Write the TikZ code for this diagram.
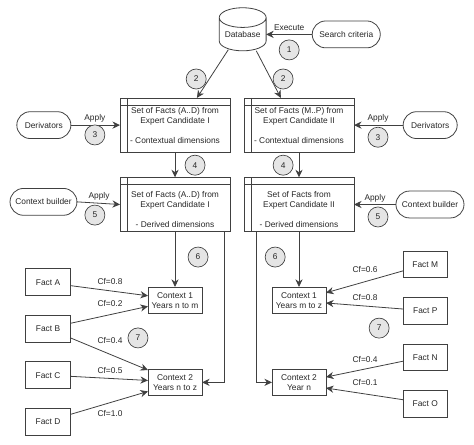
\documentclass[tikz,border=0pt]{standalone}
\usepackage{fontspec}
\setmainfont{Liberation Sans}
\usepackage{tikz}
\usetikzlibrary{arrows.meta,positioning,shapes.geometric,calc}
\newcommand{\lowerline}{\rule{0pt}{11.8pt}}
\begin{document}
\begin{tikzpicture}[
        % Default text and line looks
        font=\fontsize{6.3}{7.5}\selectfont,
        every node/.style={text=black!85, outer sep=0pt},
        % Styles
        factset/.style={rectangle, draw=black!75, line width=0.6pt, minimum width=2.91cm, minimum height=1.44cm, align=center, inner sep=0pt,
            path picture={
                \draw [black!75, line width=0.6pt] ($(path picture bounding box.north west)+(0.2,0)$) -- ($(path picture bounding box.south west)+(0.2,0)$);
                \draw [black!75, line width=0.6pt] ($(path picture bounding box.north west)+(0,-0.2)$) -- ($(path picture bounding box.north east)+(0,-0.2)$);
            }},
        termbox/.style={rectangle, draw=black!75, line width=0.6pt, rounded corners=0.355cm, minimum height=0.71cm, align=center, inner sep=0pt},
        contextbox/.style={rectangle, draw=black!75, line width=0.6pt, minimum width=1.43cm, minimum height=0.71cm, align=center, inner sep=0pt},
        factbox/.style={rectangle, draw=black!75, line width=0.6pt, minimum width=1.17cm, minimum height=0.71cm, align=center, inner sep=0pt},
        stepcircle/.style={circle, draw=black!75, line width=0.5pt, fill=gray!20, minimum size=0.53cm, inner sep=0pt},
        arrow/.style={-{Stealth[length=2mm,width=1.9mm]}, draw=black!75, line width=0.6pt}
    ]
        \useasboundingbox (0,0) rectangle (12.54,-11.77);

        % Top: database and search criteria
        \node (database) [cylinder, shape border rotate=90, draw=black!75, line width=0.6pt, aspect=0.55, minimum width=1.24cm, minimum height=1.14cm, inner sep=0pt] at (6.42,-0.91) {Database};
        \node (search) [termbox, minimum width=1.8cm, right=1.22cm of database] {Search criteria};

        % Contextual fact sets
        \node (factsa) [factset] at (4.63,-3.31) {Set of Facts (A..D) from\\Expert Candidate I\\[7.5pt]- Contextual dimensions};
        \node (factsm) [factset, right=0.37cm of factsa] {Set of Facts (M..P) from\\Expert Candidate II\\[7.5pt]- Contextual dimensions};

        % Derived fact sets
        \node (derivedi) [factset, below=0.66cm of factsa] {\lowerline Set of Facts (A..D) from\\Expert Candidate I\\[7.5pt]- Derived dimensions};
        \node (derivedii) [factset, below=0.66cm of factsm] {\lowerline Set of Facts from\\Expert Candidate II\\[7.5pt]- Derived dimensions};

        % Side inputs
        \node (derivl) [termbox, minimum width=1.43cm, left=1.30cm of factsa] {Derivators};
        \node (derivr) [termbox, minimum width=1.43cm, right=1.30cm of factsm] {Derivators};
        \node (buildl) [termbox, minimum width=1.77cm, left=1.14cm of derivedi, yshift=0.07cm] {Context builder};
        \node (buildr) [termbox, minimum width=1.80cm, right=1.11cm of derivedii] {Context builder};

        % Contexts
        \node (ctxa) [contextbox, below=1.46cm of derivedi] {Context 1\\Years n to m};
        \node (ctxb) [contextbox, below=1.46cm of ctxa] {Context 2\\Years n to z};
        \node (ctxc) [contextbox, below=1.46cm of derivedii] {Context 1\\Years m to z};
        \node (ctxd) [contextbox, below=1.46cm of ctxc] {Context 2\\Year n};

        % Facts, left column
        \node (facta) [factbox, left=2.06cm of ctxa, yshift=0.48cm] {Fact A};
        \node (factb) [factbox, below=0.52cm of facta] {Fact B};
        \node (factc) [factbox, below=0.52cm of factb] {Fact C};
        \node (factd) [factbox, below=0.52cm of factc] {Fact D};

        % Facts, right column
        \node (factm) [factbox, right=2.04cm of ctxc, yshift=0.95cm] {Fact M};
        \node (factp) [factbox, below=0.52cm of factm] {Fact P};
        \node (factn) [factbox, below=0.52cm of factp] {Fact N};
        \node (facto) [factbox, below=0.52cm of factn] {Fact O};

        % --- Connections ---
        \draw [arrow] (search.west) -- (database.east);
        \draw [arrow] ($(database.south)+(-0.38,0.03)$) -- ($(factsa.north)+(0.58,0)$);
        \draw [arrow] ($(database.south)+(0.36,0)$) -- ($(factsm.north)+(-0.48,0)$);
        \draw [arrow] (derivl.east) -- (factsa.west);
        \draw [arrow] (derivr.west) -- (factsm.east);
        \draw [arrow] (factsa.south) -- (derivedi.north);
        \draw [arrow] (factsm.south) -- (derivedii.north);
        \draw [arrow] (buildl.east) -- (derivedi.west);
        \draw [arrow] (buildr.west) -- (derivedii.east);
        \draw [arrow] (derivedi.south) -- (ctxa.north);
        \draw [arrow] (derivedii.south) -- (ctxc.north);
        \draw [arrow] ($(derivedi.south)+(1.30,0)$) |- (ctxb.east);
        \draw [arrow] ($(derivedii.south)+(-1.14,0)$) |- (ctxd.west);

        % Left facts to contexts
        \draw [arrow] ($(facta.east)+(0,-0.09)$) -- ($(ctxa.west)+(0,0.12)$);
        \draw [arrow] ($(factb.east)+(0,0.14)$) -- ($(ctxa.west)+(0,-0.16)$);
        \draw [arrow] ($(factb.east)+(0,-0.24)$) -- ($(ctxb.north west)+(0,-0.03)$);
        \draw [arrow] ($(factc.east)+(0,-0.03)$) -- ($(ctxb.west)+(0,0.05)$);
        \draw [arrow] ($(factd.east)+(0,0.19)$) -- ($(ctxb.west)+(0,-0.24)$);

        % Right facts to contexts
        \draw [arrow] ($(factm.west)+(0,-0.17)$) -- ($(ctxc.east)+(0,0.20)$);
        \draw [arrow] ($(factp.west)+(0,0.05)$) -- ($(ctxc.east)+(0,-0.07)$);
        \draw [arrow] ($(factn.west)+(0,-0.10)$) -- ($(ctxd.east)+(0,0.14)$);
        \draw [arrow] ($(facto.west)+(0,0.11)$) -- ($(ctxd.east)+(0,-0.15)$);

        % --- Labels ---
        \node (lblexec) at (7.65,-0.74) {Execute};
        \node (lblapplya) at (2.51,-3.12) {Apply};
        \node (lblapplyb) at (10.00,-3.12) {Apply};
        \node (lblapplyc) at (2.62,-5.19) {Apply};
        \node (lblapplyd) at (9.92,-5.24) {Apply};

        \node (cfa) at (2.91,-7.44) {Cf=0.8};
        \node (cfb) at (2.91,-8.04) {Cf=0.2};
        \node (cfc) at (2.91,-9.02) {Cf=0.4};
        \node (cfd) at (2.91,-9.79) {Cf=0.5};
        \node (cfe) at (2.91,-10.95) {Cf=1.0};
        \node (cfm) at (9.66,-7.14) {Cf=0.6};
        \node (cfp) at (9.66,-7.86) {Cf=0.8};
        \node (cfn) at (9.66,-9.50) {Cf=0.4};
        \node (cfo) at (9.66,-10.13) {Cf=0.1};

        % --- Step numbers ---
        \node (stepa) [stepcircle] at (7.65,-1.32) {1};
        \node (stepb) [stepcircle] at (5.19,-2.09) {2};
        \node (stepc) [stepcircle] at (7.49,-2.09) {2};
        \node (stepd) [stepcircle] at (2.51,-3.57) {3};
        \node (stepe) [stepcircle] at (10.00,-3.63) {3};
        \node (stepf) [stepcircle] at (5.16,-4.37) {4};
        \node (stepg) [stepcircle] at (7.49,-4.37) {4};
        \node (steph) [stepcircle] at (2.51,-5.69) {5};
        \node (stepi) [stepcircle] at (10.00,-5.74) {5};
        \node (stepj) [stepcircle] at (5.24,-6.80) {6};
        \node (stepk) [stepcircle] at (7.28,-6.80) {6};
        \node (stepl) [stepcircle] at (3.65,-8.94) {7};
        \node (stepm) [stepcircle] at (10.03,-8.68) {7};
    \end{tikzpicture}
\end{document}
